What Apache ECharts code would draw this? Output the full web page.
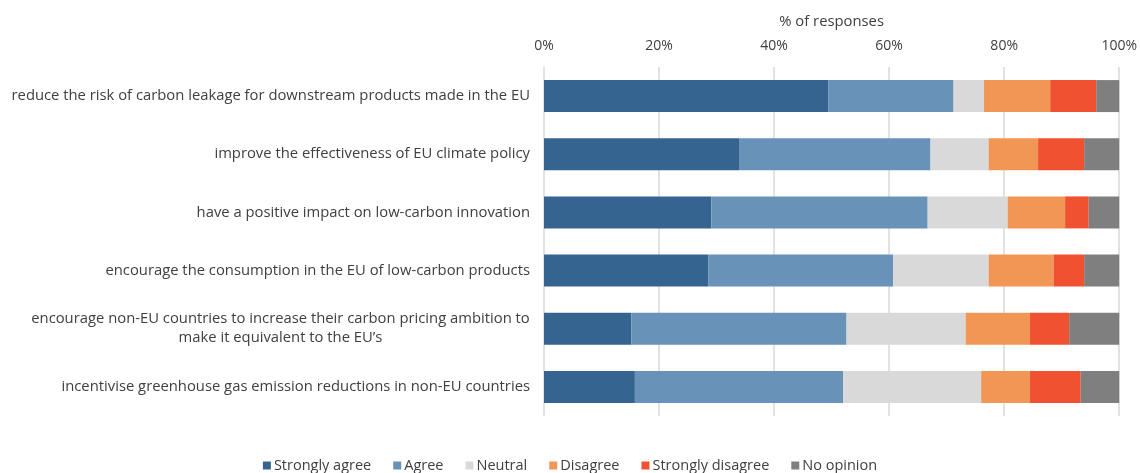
<!DOCTYPE html>
<html>
<head>
<meta charset="utf-8">
<script src="https://cdn.jsdelivr.net/npm/echarts@6/dist/echarts.min.js"></script>
<style>
  html, body { margin: 0; padding: 0; background: #ffffff; }
  #chart { width: 1140px; height: 473px; }
</style>
</head>
<body>
<div id="chart"></div>
<script>
// Statements, listed top to bottom
const categories = [
  'reduce the risk of carbon leakage for downstream products made in the EU',
  'improve the effectiveness of EU climate policy',
  'have a positive impact on low-carbon innovation',
  'encourage the consumption in the EU of low-carbon products',
  'encourage non-EU countries to increase their carbon pricing ambition to\nmake it equivalent to the EU\u2019s',
  'incentivise greenhouse gas emission reductions in non-EU countries'
];

// Share of responses (%) per answer, in the same order as the statements
const stronglyAgree    = [49.4, 33.9, 29.1, 28.6, 15.2, 15.8];
const agree            = [21.8, 33.3, 37.6, 32.1, 37.4, 36.2];
const neutral          = [ 5.3, 10.1, 13.9, 16.6, 20.7, 24.0];
const disagree         = [11.5,  8.6, 10.0, 11.3, 11.2,  8.5];
const stronglyDisagree = [ 8.0,  8.0,  4.1,  5.3,  6.8,  8.8];
const noOpinion        = [ 4.0,  6.1,  5.3,  6.1,  8.7,  6.7];

const answerNames = ['Strongly agree', 'Agree', 'Neutral', 'Disagree', 'Strongly disagree', 'No opinion'];
const answerValues = [stronglyAgree, agree, neutral, disagree, stronglyDisagree, noOpinion];
const answerColors = ['#366490', '#6892b8', '#d9d9d9', '#f29655', '#ef5131', '#7f7f7f'];

const xTicks = [0, 20, 40, 60, 80, 100];

const FONT = '"Open Sans", "Noto Sans", sans-serif';
const TEXT = '#404040';
const LABEL_SIZE = 14.8;

// Width of the longest line of a two-line label, so its lines can be centred on each other
function lineWidth(str) {
  const c = document.createElement('canvas').getContext('2d');
  c.font = LABEL_SIZE + 'px ' + FONT;
  return Math.ceil(c.measureText(str).width);
}

const chart = echarts.init(document.getElementById('chart'), null, { renderer: 'canvas' });

chart.setOption({
  backgroundColor: '#ffffff',
  animation: false,
  textStyle: { fontFamily: FONT, color: TEXT },
  grid: { left: 544, right: 20, top: 67, bottom: 57, containLabel: false },
  legend: {
    top: 453,
    left: 'center',
    itemWidth: 8,
    itemHeight: 8,
    itemGap: 22,
    icon: 'rect',
    textStyle: { fontSize: 14.5, color: TEXT, fontFamily: FONT, padding: [0, 0, 0, -2] },
    data: answerNames
  },
  xAxis: {
    type: 'value',
    position: 'top',
    min: xTicks[0],
    max: xTicks[xTicks.length - 1],
    interval: xTicks[1] - xTicks[0],
    name: '% of responses',
    nameLocation: 'middle',
    nameGap: 38,
    nameTextStyle: { fontSize: 14.8, color: TEXT },
    axisLine: { show: false },
    axisTick: { show: false },
    axisLabel: { formatter: '{value}%', fontSize: 14, color: TEXT, margin: 14 },
    splitLine: { show: true, lineStyle: { color: '#d9d9d9', width: 1.5 } }
  },
  yAxis: {
    type: 'category',
    inverse: true,
    data: categories,
    axisLine: { show: false },
    axisTick: { show: false },
    axisLabel: {
      fontSize: LABEL_SIZE,
      color: TEXT,
      margin: 14,
      lineHeight: 19,
      formatter: function (value) {
        const lines = value.split('\n');
        if (lines.length === 1) return value;
        return lines.map(l => '{c|' + l + '}').join('\n');
      },
      rich: {
        c: {
          fontSize: LABEL_SIZE,
          color: TEXT,
          fontFamily: FONT,
          lineHeight: 19,
          align: 'center',
          width: lineWidth(categories[4].split('\n')[0])
        }
      }
    }
  },
  series: answerNames.map((name, i) => ({
    name: name,
    type: 'bar',
    stack: 'total',
    barWidth: '55%',
    itemStyle: { color: answerColors[i] },
    emphasis: { disabled: true },
    data: answerValues[i]
  }))
});
</script>
</body>
</html>
